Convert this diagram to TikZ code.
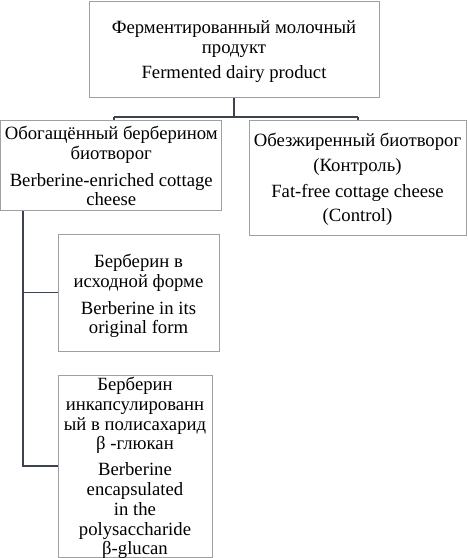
\documentclass[tikz,border=0pt]{standalone}
\usepackage{fontspec}
\setmainfont{Liberation Serif}
\definecolor{boxgray}{HTML}{A0A0A0}
\definecolor{conncol}{HTML}{3C4250}
\begin{document}
\begin{tikzpicture}[x=1pt,y=-1pt,
  box/.style={draw=boxgray, line width=1pt, inner sep=0pt},
  txt/.style={inner sep=0pt, align=center,
    font=\fontsize{18.7}{19.8}\selectfont},
  conn/.style={draw=conncol, line width=1.3pt}]
\useasboundingbox (0,0) rectangle (467,558);
\fill[white] (0,0) rectangle (467,558);

\node[box, minimum width=290pt, minimum height=96pt] (top) at (234,49) {};
\node[txt] (toptxt) at ([yshift=-2.5pt]top.center)
  {Ферментированный молочный\\продукт\\[5pt]Fermented dairy product};
\node[box, minimum width=221pt, minimum height=90pt] (left) at (111.25,165) {};
\node[txt] (lefttxt) at ([yshift=-1pt]left.center)
  {Обогащённый берберином\\биотворог\\[7pt]Berberine-enriched cottage\\cheese};
\node[box, minimum width=217pt, minimum height=115pt] (right) at (357.5,177.5) {};
\node[txt] (righttxt) at ([yshift=-1.5pt]right.center)
  {Обезжиренный биотворог\\[6pt](Контроль)\\[6pt]Fat-free cottage cheese\\[4pt](Control)};
\node[box, minimum width=161pt, minimum height=117pt] (b3) at (138.5,292.5) {};
\node[txt] (b3txt) at ([yshift=-3.5pt]b3.center)
  {Берберин в\\исходной форме\\[7pt]Berberine in its\\original form};
\node[box, minimum width=154pt, minimum height=182pt] (b4) at (135,466) {};
\node[txt] (b4txt) at ([yshift=-2pt]b4.center)
  {Берберин\\инкапсулированн\\ый в полисахарид\\β -глюкан\\[6pt]Berberine\\encapsulated\\in the\\polysaccharide\\β-glucan};

\coordinate (jl) at (114,117);
\coordinate (jr) at (358,117);
\coordinate (v) at (23,0);
\draw[conn] (top.south) -- (top.south |- jl);
\draw[conn] (jl) -- (jr);
\draw[conn] (jl) -- (jl |- left.north);
\draw[conn] (jr) -- (jr |- right.north);
\draw[conn] (v |- left.south) |- (b4.west);
\draw[conn] (v |- b3.west) -- (b3.west);
\end{tikzpicture}
\end{document}
